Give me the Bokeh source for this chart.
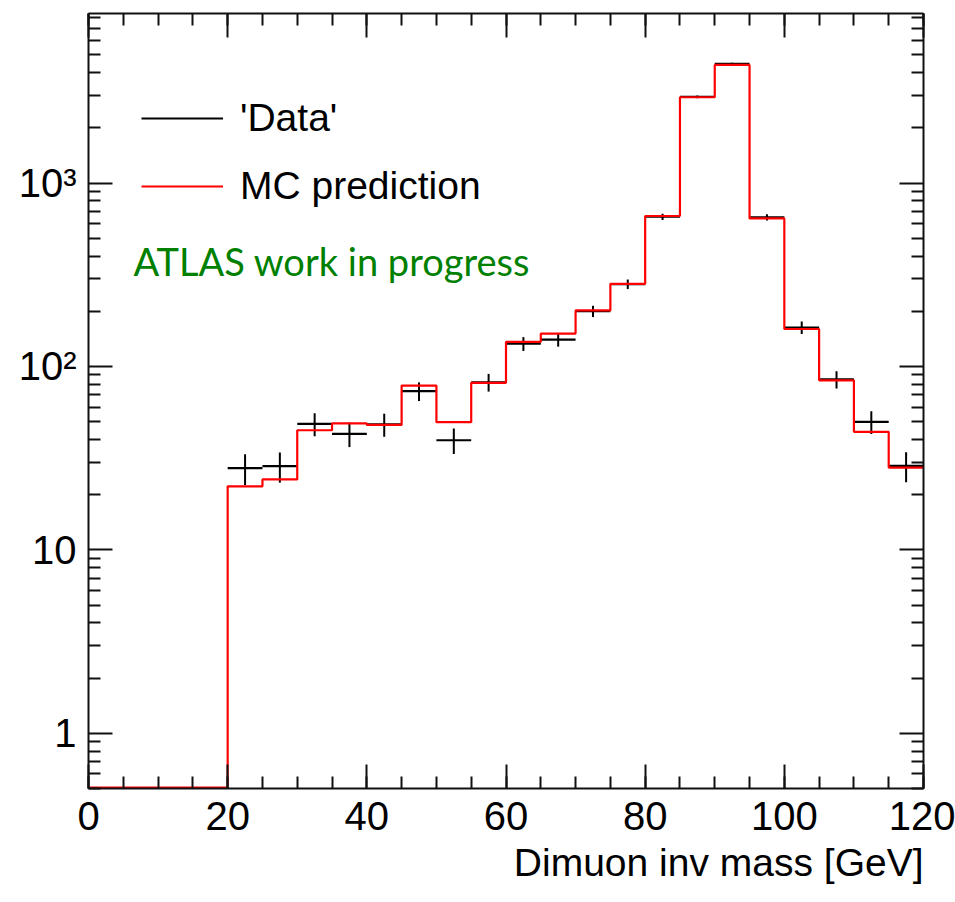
import numpy as np
from bokeh.plotting import figure
from bokeh.models import (Range1d, LinearAxis, LogAxis, FixedTicker,
                          CustomJSTickFormatter, Label, Legend, LegendItem,
                          ColumnDataSource, Title)
from bokeh.embed import file_html
from bokeh.resources import INLINE

# ---------------- data ----------------
bin_edges = [0, 5, 10, 15, 20, 25, 30, 35, 40, 45, 50, 55, 60,
             65, 70, 75, 80, 85, 90, 95, 100, 105, 110, 115, 120]
mc_prediction = [0, 0, 0, 0, 22.2, 24.2, 44.9, 48.9, 48.0, 78.7, 49.7, 81.4,
                 136, 151, 202, 282, 661, 2935, 4405, 641, 160, 84, 44, 28.1]
data_counts = [0, 0, 0, 0, 27.9, 28.6, 48.6, 42.9, 48.3, 73.3, 39.6, 82,
               133, 140, 200, 281, 655, 2950, 4460, 650, 163, 85, 49.9, 28.7]
data_errors = [0, 0, 0, 0, 5.3, 5.35, 6.97, 6.55, 6.95, 8.56, 6.29, 9.06,
               11.5, 11.8, 14.1, 16.8, 25.6, 54.3, 66.8, 25.5, 12.8, 9.2, 7.06, 5.36]
x_ticks = [0, 20, 40, 60, 80, 100, 120]
x_minor_ticks = list(range(0, 125, 5))
y_major = [1, 10, 100, 1000]
y_tick_labels = ["1", "10", "10²", "10³"]
y_minor = [m * d for d in [0.1, 1, 10, 100, 1000] for m in range(2, 10)]
x_title = "Dimuon inv mass [GeV]"
legend_labels = ["'Data'", "MC prediction"]
annotation = "ATLAS work in progress"

Y_LO, Y_HI = 0.5, 8400
SANS = "Liberation Sans"

p = figure(frame_width=835, frame_height=775,
           x_range=Range1d(0, 120), y_range=Range1d(Y_LO, Y_HI),
           y_axis_type="log", x_axis_location=None, y_axis_location=None,
           output_backend="svg", toolbar_location=None,
           min_border_left=88, min_border_right=32,
           min_border_top=13, min_border_bottom=10)
p.xgrid.visible = False
p.ygrid.visible = False
p.outline_line_color = None
p.background_fill_color = "white"
p.border_fill_color = "white"

blank = CustomJSTickFormatter(code="return ''")


def style_axis(ax, labels=False):
    ax.axis_line_color = "#111111"
    ax.axis_line_width = 2
    ax.major_tick_line_color = "#111111"
    ax.minor_tick_line_color = "#111111"
    ax.major_tick_line_width = 2
    ax.minor_tick_line_width = 2
    ax.major_tick_in = 24
    ax.major_tick_out = 0
    ax.minor_tick_in = 12
    ax.minor_tick_out = 0
    if labels:
        ax.major_label_text_font = SANS
        ax.major_label_text_font_size = "40px"
        ax.major_label_text_color = "black"
    else:
        ax.formatter = blank
        ax.major_label_text_font_size = "0px"
        ax.major_label_standoff = 0


xticker = FixedTicker(ticks=x_ticks, minor_ticks=x_minor_ticks)
yticker = FixedTicker(ticks=y_major, minor_ticks=y_minor)

xb = LinearAxis(ticker=xticker)
style_axis(xb, labels=True)
xb.major_label_standoff = 13
p.add_layout(xb, "below")

p.add_layout(Title(text=x_title, align="right", text_font=SANS,
                   text_font_size="39px", text_font_style="normal",
                   text_color="black", standoff=12), "below")

xt = LinearAxis(ticker=xticker)
style_axis(xt)
p.add_layout(xt, "above")

yl = LogAxis(ticker=yticker)
style_axis(yl, labels=True)
yl.major_label_overrides = {v: t for v, t in zip(y_major, y_tick_labels)}
yl.major_label_standoff = 12
p.add_layout(yl, "left")

yr = LogAxis(ticker=yticker)
style_axis(yr)
p.add_layout(yr, "right")

# ---------------- data points with error bars ----------------
edges = np.array(bin_edges, dtype=float)
cnt = np.array(data_counts, dtype=float)
err = np.array(data_errors, dtype=float)
nz = cnt > 0
src_d = ColumnDataSource(dict(
    lo=edges[:-1][nz], hi=edges[1:][nz],
    c=0.5 * (edges[:-1] + edges[1:])[nz],
    y=cnt[nz], ylo=(cnt - err)[nz], yhi=(cnt + err)[nz]))
r_data = p.segment(x0="lo", x1="hi", y0="y", y1="y", source=src_d,
                   line_color="black", line_width=2.2)
p.segment(x0="c", x1="c", y0="ylo", y1="yhi", source=src_d,
          line_color="black", line_width=2)

# ---------------- MC histogram ----------------
mc = np.array(mc_prediction, dtype=float)
xs = np.repeat(edges, 2)[1:-1]
ys = np.repeat(np.where(mc > 0, mc, Y_LO * 1.01), 2)
r_mc = p.line(xs, ys, line_color="#ff0000", line_width=2.2)

# ---------------- legend ----------------
legend = Legend(items=[LegendItem(label=legend_labels[0], renderers=[r_data]),
                       LegendItem(label=legend_labels[1], renderers=[r_mc])],
                location=(53, 576), orientation="vertical",
                glyph_width=82, glyph_height=52, label_height=52,
                label_width=200, spacing=16, label_standoff=17,
                padding=0, margin=0,
                border_line_color=None, background_fill_alpha=0,
                label_text_font=SANS, label_text_font_size="39px",
                label_text_color="black")
p.add_layout(legend, "center")

# ---------------- annotation ----------------
p.add_layout(Label(x=45, y=528, x_units="screen", y_units="screen",
                   text=annotation, text_font="Lato", text_font_size="38px",
                   text_color="#008000", text_baseline="alphabetic"))

open("out.html", "w").write(file_html(p, INLINE))
